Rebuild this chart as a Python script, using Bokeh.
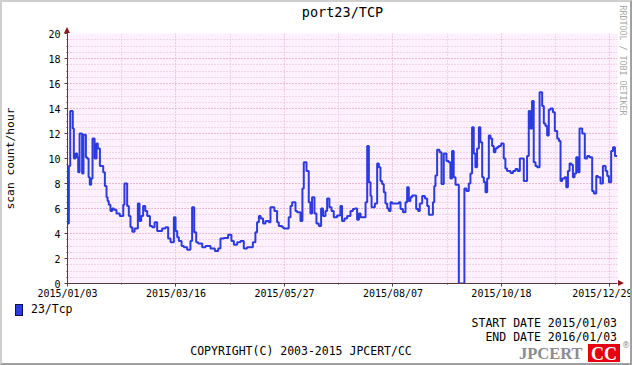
from bokeh.plotting import figure
from bokeh.models import (FixedTicker, Range1d, Title, Div)
from bokeh.layouts import column
from bokeh.embed import file_html
from bokeh.resources import INLINE

# ---- data (day offsets from 2015/01/03, scan count/hour) ----
q1_start = [0, 0.9, 1.8, 3.5, 4.2, 5.3, 6.4, 7.1, 8.0, 9.7, 10.6, 12.2, 13.0, 14.0, 14.8,
            15.7, 16.6, 18.0, 19.3, 20.1, 21.5, 23.7, 24.8, 25.9, 26.6, 27.4, 28.5, 29.7,
            30.8, 32.5, 34.7, 37.0, 37.8, 39.6, 40.7, 41.8, 43.0, 44.5, 46.7, 47.8, 48.9,
            50.2, 51.6, 52.9, 54.7, 56.2, 57.8, 59.5, 62.8, 65.0, 66.8, 68.4, 70.6, 71.7,
            72.8, 73.9, 75.7, 77.2, 79.4, 81.6, 82.7, 84.1, 85.4, 86.7, 89.4]
q1_value = [4.8, 9.4, 13.8, 12.4, 10.0, 10.4, 10.1, 8.9, 12.0, 8.8, 11.9, 10.1, 10.0, 8.5, 7.9,
            8.4, 11.6, 10.0, 11.2, 10.8, 9.4, 8.9, 7.8, 6.9, 6.6, 6.3, 5.8, 6.0,
            5.9, 5.6, 5.4, 6.3, 8.0, 6.2, 5.4, 4.5, 4.15, 4.4, 6.4, 5.0, 5.4,
            6.2, 5.8, 5.4, 4.6, 4.5, 4.9, 4.2, 4.4, 4.5, 3.6, 3.3, 5.3, 4.2,
            3.7, 3.4, 3.0, 2.9, 2.7, 3.4, 6.1, 4.1, 3.3, 3.2, 2.9]

q2_start = [91.6, 94.9, 97.8, 100.0, 101.5, 103.7, 106.6, 108.8, 110.4, 112.6, 114.8, 117.0,
            119.2, 123.0, 124.7, 125.8, 127.0, 128.2, 129.8, 131.4, 133.6, 134.7, 137.3,
            139.1, 140.2, 142.4, 143.5, 146.8, 148.0, 149.1, 151.3, 152.4, 154.6, 155.9,
            156.8, 158.6, 160.1, 161.2, 162.3, 163.9, 165.2, 166.8, 168.3, 169.6, 171.2,
            172.3, 173.8, 175.2, 176.7, 178.9]
q2_value = [3.0, 2.8, 2.6, 2.8, 3.6, 3.65, 3.9, 3.4, 3.1, 3.3, 3.4, 2.8,
            2.9, 3.3, 4.1, 4.9, 5.4, 5.2, 4.8, 5.0, 4.9, 6.1, 5.8,
            4.9, 4.6, 4.5, 4.4, 5.3, 6.2, 6.5, 5.8, 5.7, 5.0, 7.6,
            9.7, 9.0, 6.5, 5.6, 6.9, 5.6, 4.8, 4.6, 6.0, 5.4, 5.8,
            6.8, 6.1, 5.8, 5.3, 5.45]

q3_start = [181.1, 182.2, 183.8, 185.6, 187.8, 189.4, 190.7, 192.2, 193.4, 194.5, 197.8,
            198.9, 200.0, 201.1, 201.8, 204.0, 205.5, 206.6, 207.7, 208.8, 209.9, 211.0,
            212.2, 213.3, 214.4, 215.5, 219.9, 221.0, 222.6, 224.3, 225.4, 226.5, 227.6,
            228.7, 231.4, 232.7, 233.8, 235.4, 237.2, 238.7, 239.8, 242.5, 243.4, 244.2,
            245.3, 246.9, 248.2, 249.7, 251.5, 253.0, 254.1, 255.2, 256.3, 257.5, 259.7,
            263.4, 264.8, 266.3, 267.4, 268.5, 269.6]
q3_value = [6.2, 5.0, 5.2, 5.4, 5.8, 5.97, 6.0, 5.1, 5.6, 5.3, 6.5,
            11.0, 8.1, 7.0, 6.1, 6.4, 9.6, 9.3, 8.2, 7.97, 7.3, 6.4,
            6.0, 5.8, 6.5, 6.4, 6.5, 5.97, 5.7, 6.5, 7.7, 6.6, 6.9,
            7.04, 5.97, 5.8, 6.4, 7.0, 6.8, 6.2, 5.5, 6.5, 7.8, 8.64,
            10.7, 10.5, 7.97, 10.4, 9.8, 9.7, 8.4, 10.6, 8.5, 7.9, 0.0,
            7.6, 7.4, 8.0, 8.8, 12.5, 10.4]

q4_start = [270.7, 271.8, 273.0, 274.0, 275.2, 276.3, 277.4, 278.5, 279.6, 280.7, 281.8,
            282.9, 284.0, 285.1, 286.2, 287.8, 289.5, 290.6, 291.7, 294.0, 295.7, 297.3,
            298.8, 300.2, 302.8, 305.0, 306.1, 307.2, 308.3, 309.4, 310.6, 311.7, 313.3,
            315.0, 316.1, 317.2, 318.3, 319.4, 320.5, 322.1, 323.4, 325.0, 326.1, 327.2,
            328.3, 329.9, 331.0, 332.1, 333.2, 334.3, 335.4, 336.5, 337.6, 338.7, 339.8,
            341.6, 343.3, 344.9, 346.4, 348.2, 349.3, 350.9, 352.0, 353.7, 355.3, 357.1,
            358.2, 359.3, 360.8, 362.0, 363.3]
q4_value = [9.3, 10.8, 12.5, 11.3, 8.5, 8.1, 7.3, 8.4, 11.84, 11.6, 11.0,
            10.5, 10.8, 10.9, 11.0, 11.2, 10.0, 9.2, 9.0, 8.85, 9.0, 9.17,
            9.0, 10.0, 8.2, 10.2, 13.8, 12.4, 14.6, 9.7, 9.4, 9.3, 15.3,
            14.2, 12.8, 12.6, 11.84, 13.9, 14.0, 13.7, 12.2, 11.6, 11.4, 8.2,
            8.4, 8.5, 7.7, 9.0, 9.6, 9.5, 8.5, 8.8, 10.1, 8.9, 12.4,
            12.0, 10.0, 10.2, 10.1, 7.4, 7.2, 8.6, 8.5, 8.0, 9.4, 9.0,
            8.6, 8.1, 10.6, 10.9, 10.2]
last_day = 364.8

tick_days = [0, 72, 144, 216, 288, 360]
tick_labels = ["2015/01/03", "2015/03/16", "2015/05/27", "2015/08/07", "2015/10/18", "2015/12/29"]
minor_days = [36, 108, 180, 252, 324]
y_ticks = list(range(0, 21, 2))
y_minor = [k * 0.5 for k in range(41)]

series_name = "23/Tcp"
title_text = "port23/TCP"
y_label = "scan count/hour"
side_text = "RRDTOOL / TOBI OETIKER"
start_text = "START DATE 2015/01/03"
end_text = "END DATE 2016/01/03"
copyright_text = "COPYRIGHT(C) 2003-2015 JPCERT/CC"

# ---- assemble ----
starts = q1_start + q2_start + q3_start + q4_start
vals = q1_value + q2_value + q3_value + q4_value
xs = starts + [last_day]
ys = vals + [vals[-1]]

MONO = "DejaVu Sans Mono"
LINE_COLOR = "#2B3BE0"
AXIS_COLOR = "#5a3a3a"
ARROW_COLOR = "#8B1A1A"
W = 632
MAIN_H = 302
FOOT_H = 365 - MAIN_H

p = figure(width=W, height=MAIN_H, output_backend="svg", toolbar_location=None,
           x_range=Range1d(0, 365), y_range=Range1d(0, 20), title=None)
p.min_border_left = 67
p.min_border_right = 15
p.min_border_top = 33
p.min_border_bottom = MAIN_H - 283
p.background_fill_color = "#FFF0FF"
p.border_fill_color = "white"
p.outline_line_color = None

p.xaxis.ticker = FixedTicker(ticks=tick_days, minor_ticks=minor_days)
p.xaxis.major_label_overrides = {d: s for d, s in zip(tick_days, tick_labels)}
p.yaxis.ticker = FixedTicker(ticks=y_ticks, minor_ticks=y_minor)

for ax in (p.xaxis[0], p.yaxis[0]):
    ax.axis_line_color = AXIS_COLOR
    ax.axis_line_width = 1
    ax.major_tick_line_color = AXIS_COLOR
    ax.minor_tick_line_color = AXIS_COLOR
    ax.major_tick_in = 0
    ax.major_tick_out = 3
    ax.minor_tick_in = 0
    ax.minor_tick_out = 1
    ax.major_label_text_font = MONO
    ax.major_label_text_font_size = "10px"
    ax.major_label_text_color = "black"
p.xaxis.major_label_standoff = 1
p.yaxis.major_label_standoff = 4
p.yaxis.axis_label = y_label
p.yaxis.axis_label_text_font = MONO
p.yaxis.axis_label_text_font_size = "11.3px"
p.yaxis.axis_label_text_font_style = "normal"
p.yaxis.axis_label_text_color = "black"
p.yaxis.axis_label_standoff = 28

for g in (p.xgrid[0], p.ygrid[0]):
    g.grid_line_color = "#E8A0B0"
    g.grid_line_dash = "1 2"
    g.grid_line_width = 1
    g.minor_grid_line_color = "#DDBBD0"
    g.minor_grid_line_dash = "1 2"
    g.minor_grid_line_width = 1

p.step(xs, ys, mode="after", line_color=LINE_COLOR, line_width=2)

# spacer between frame and title, then the title
p.add_layout(Title(text=" ", text_font_size="2px", standoff=9), "above")
p.add_layout(Title(text=title_text, align="center", vertical_align="middle", standoff=0,
                   text_font=MONO, text_font_size="13.5px", text_font_style="normal",
                   text_color="black"), "above")
p.add_layout(Title(text=side_text, align="left", offset=-28, standoff=1,
                   text_font=MONO, text_font_size="8.3px", text_font_style="normal",
                   text_color="#A8A8A8"), "right")

# ---- footer (legend, dates, copyright, logo); positions in page px ----
def span(x, y, text, anchor="left", size="11.5px", font=MONO, color="black", extra=""):
    tx = {"left": "0", "center": "-50%", "right": "-100%"}[anchor]
    return (f'<span style="position:absolute;left:{x}px;top:{y - MAIN_H}px;'
            f'transform:translate({tx},-50%);white-space:nowrap;font-family:\'{font}\';'
            f'font-size:{size};line-height:1;color:{color};{extra}">{text}</span>')

def box(x0, y0, x1, y1, fill, border="none", extra=""):
    return (f'<span style="position:absolute;left:{x0}px;top:{y0 - MAIN_H}px;'
            f'width:{x1 - x0}px;height:{y1 - y0}px;background:{fill};border:{border};'
            f'box-sizing:border-box;pointer-events:none;{extra}"></span>')

def tri_up(cx, tip_y, w, h, color):
    return (f'<span style="position:absolute;left:{cx - w / 2}px;top:{tip_y - MAIN_H}px;'
            f'width:0;height:0;border-left:{w / 2}px solid transparent;'
            f'border-right:{w / 2}px solid transparent;border-bottom:{h}px solid {color};"></span>')

def tri_right(tip_x, cy, w, h, color):
    return (f'<span style="position:absolute;left:{tip_x - h}px;top:{cy - w / 2 - MAIN_H}px;'
            f'width:0;height:0;border-top:{w / 2}px solid transparent;'
            f'border-bottom:{w / 2}px solid transparent;border-left:{h}px solid {color};"></span>')

html = (f'<div style="position:relative;width:{W}px;height:{FOOT_H}px;background:white;'
        f'overflow:visible;margin:0;padding:0;">'
        + box(15, 304, 23, 316, LINE_COLOR, "1px solid #101050")
        + span(31, 310, series_name)
        + span(617, 324, start_text, "right")
        + span(617, 338, end_text, "right")
        + span(301, 352, copyright_text, "center")
        + span(519, 354, "JPCERT", size="16.5px", font="Liberation Serif", color="#8C8C8C",
               extra="font-weight:bold;")
        + box(588, 344, 620, 362, "#E60012")
        + span(604, 354, "CC", "center", size="18px", font="Liberation Serif", color="white",
               extra="font-weight:bold;")
        + span(626, 346, "\u00ae", "center", size="8px", font="DejaVu Sans", color="#8C8C8C")
        # axis arrow heads (drawn over the plot's border area)
        + tri_up(67, 27, 7, 6, ARROW_COLOR)
        + tri_right(624, 283, 7, 6, ARROW_COLOR)
        # rrdtool-style outer frame
        + box(0, 0, W, 365, "transparent",
              extra="border-top:2px solid #CFCFCF;border-left:2px solid #CFCFCF;"
                    "border-right:2px solid #A0A0A0;border-bottom:2px solid #A0A0A0;")
        + '</div>')

foot = Div(text=html, width=W, height=FOOT_H, margin=0, styles={"overflow": "visible"})

layout = column(p, foot, spacing=0)
open("out.html", "w").write(file_html(layout, INLINE))
